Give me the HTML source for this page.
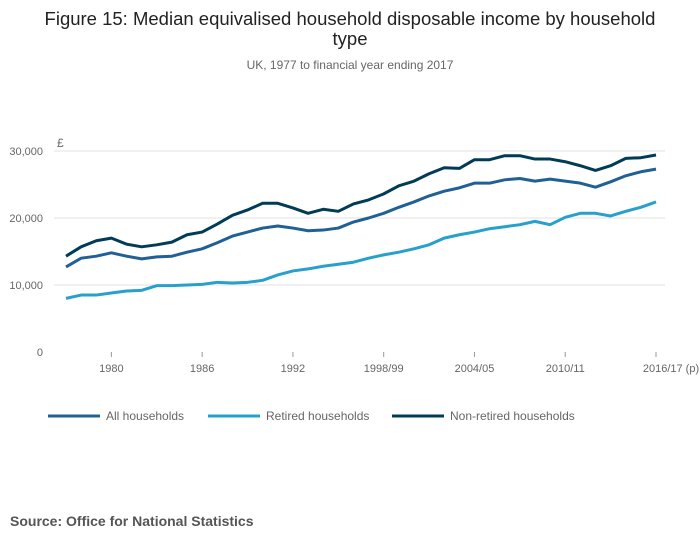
<!DOCTYPE html>
<html><head><meta charset="utf-8"><style>
body{margin:0;width:700px;height:549px;background:#fff;font-family:"Liberation Sans",sans-serif;overflow:hidden}
svg text{font-family:"Liberation Sans",sans-serif}
</style></head><body>
<svg id="c" width="700" height="549">
<text x="350" y="25" text-anchor="middle" font-size="18.5" fill="#222">Figure 15: Median equivalised household disposable income by household</text>
<text x="350" y="45" text-anchor="middle" font-size="18.5" fill="#222">type</text>
<text x="350" y="69" text-anchor="middle" font-size="12" fill="#666">UK, 1977 to financial year ending 2017</text>
<text x="57" y="147" font-size="12" fill="#666">£</text>
<g id="grid"></g><g id="series"></g><g id="xt"></g>
<g font-size="12" fill="#666">
<line x1="48" y1="416" x2="100" y2="416" stroke="#206095" stroke-width="3"/><text x="106" y="420">All households</text>
<line x1="208" y1="416" x2="260" y2="416" stroke="#27a0cc" stroke-width="3"/><text x="266" y="420">Retired households</text>
<line x1="392" y1="416" x2="444" y2="416" stroke="#003c57" stroke-width="3"/><text x="450" y="420">Non-retired households</text>
</g>
<text x="10" y="526" font-size="14" font-weight="bold" fill="#555">Source: Office for National Statistics</text>
</svg>
<script>
const years=[];for(let y=1977;y<=2016;y++)years.push(y);
const allHouseholds=[12700,14000,14300,14800,14300,13900,14200,14300,14900,15400,16300,17300,17900,18500,18800,18500,18100,18200,18500,19400,20000,20700,21600,22400,23300,24000,24500,25200,25200,25700,25900,25500,25800,25500,25200,24600,25400,26300,26900,27300];
const retired=[8000,8500,8500,8800,9100,9200,9900,9900,10000,10100,10400,10300,10400,10700,11500,12100,12400,12800,13100,13400,14000,14500,14900,15400,16000,17000,17500,17900,18400,18700,19000,19500,19000,20100,20700,20700,20300,21000,21600,22400];
const nonRetired=[14300,15700,16600,17000,16100,15700,16000,16400,17500,17900,19100,20400,21200,22200,22200,21500,20700,21300,21000,22100,22700,23600,24800,25500,26600,27500,27400,28700,28700,29300,29300,28800,28800,28400,27800,27100,27800,28900,29000,29400];
const yTicks=[0,10000,20000,30000];
const xTickLabels=["1980","1986","1992","1998/99","2004/05","2010/11","2016/17 (p)"];
const xTickIdx=[3,9,15,21,27,33,39];
const NS="http://www.w3.org/2000/svg";
const X=i=>66+i*(656-66)/39, Y=v=>352-v*67/10000;
function mk(t,a,p){const e=document.createElementNS(NS,t);for(const k in a)e.setAttribute(k,a[k]);p.appendChild(e);return e;}
const g=document.getElementById('grid');
yTicks.forEach(v=>{
 if(v>0){const l=mk('line',{x1:54,x2:665,y1:Y(v),y2:Y(v),stroke:'#e0e0e0'},g);
 
 }
 const t=mk('text',{x:43,y:Y(v)+4,'text-anchor':'end','font-size':11,fill:'#666'},g);
 t.textContent=v.toLocaleString('en-GB');
 
 
});
const xt=document.getElementById('xt');
xTickLabels.forEach((s,k)=>{
 const x=X(xTickIdx[k]);
 const l=mk('line',{x1:x,x2:x,y1:352,y2:357,stroke:'#999'},xt);
 
 
 const t=mk('text',{x:x+(k==6?15:0),y:372,'text-anchor':'middle','font-size':11,fill:'#666'},xt);
 t.textContent=s;
 
 
});
const sg=document.getElementById('series');
[[allHouseholds,'#206095','line-all-households'],[retired,'#27a0cc','line-retired-households'],[nonRetired,'#003c57','line-non-retired-households']].forEach(([d,c,n])=>{
 const p=mk('polyline',{points:d.map((v,i)=>X(i)+','+Y(v)).join(' '),fill:'none',stroke:c,'stroke-width':3,'stroke-linejoin':'round'},sg);
 
 
});
</script>
</body></html>
